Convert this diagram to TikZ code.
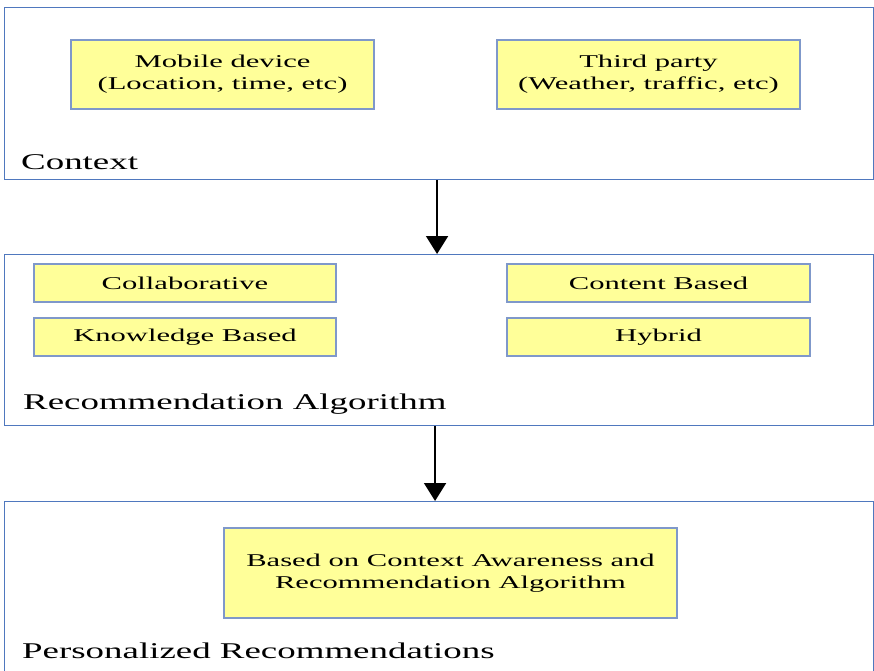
\documentclass[tikz,border=0pt]{standalone}
\usepackage{fontspec}
\usetikzlibrary{arrows.meta}
\newfontfamily\diagfont[FakeStretch=1.7]{Liberation Serif}
\newfontfamily\labelfont[FakeStretch=1.64]{Liberation Serif}
\definecolor{outerblue}{HTML}{4F78BE}
\definecolor{innerblue}{HTML}{7F98CA}
\definecolor{boxyellow}{HTML}{FFFF99}
\tikzset{
  outerbox/.style={draw=outerblue, line width=1.1pt, anchor=north west, inner sep=0pt},
  itembox/.style={draw=innerblue, fill=boxyellow, line width=1.6pt, inner sep=0pt, align=center,
    font=\diagfont\fontsize{18}{22}\selectfont},
  biglabel/.style={anchor=west, inner sep=0pt, font=\labelfont\fontsize{22.5}{26}\selectfont},
  flow/.style={line width=1.8pt, -{Triangle[width=22pt,length=18pt]}}
}
\begin{document}
\begin{tikzpicture}[x=1pt,y=-1pt]
\useasboundingbox (0,0) rectangle (874,670);
\clip (0,0) rectangle (874,670);
% outer panels
\node[outerbox, minimum width=869pt, minimum height=172pt] (ctx) at (4,7) {};
\node[outerbox, minimum width=869pt, minimum height=171pt] (alg) at (4,254) {};
\node[outerbox, minimum width=869pt, minimum height=200pt] (pers) at (4,501) {};
% context items
\node[itembox, minimum width=303pt, minimum height=69pt] (mob) at (222.5,74.5) {Mobile device\\(Location, time, etc)};
\node[itembox, minimum width=303pt, minimum height=69pt] (third) at (648.5,74.5) {Third party\\(Weather, traffic, etc)};
\node[biglabel] (ctxlab) at (21,162) {Context};
% algorithm items
\node[itembox, minimum width=302pt, minimum height=38pt] (col) at (185,283) {Collaborative};
\node[itembox, minimum width=302pt, minimum height=38pt] (kno) at (185,337) {Knowledge Based};
\node[itembox, minimum width=303pt, minimum height=38pt] (cont) at (658.5,283) {Content Based};
\node[itembox, minimum width=303pt, minimum height=38pt] (hyb) at (658.5,337) {Hybrid};
\node[biglabel] (alglab) at (23,404) {Recommendation Algorithm};
% personalized
\node[itembox, minimum width=453pt, minimum height=90pt] (based) at (450.5,573) {Based on Context Awareness and\\Recommendation Algorithm};
\node[biglabel] (perslab) at (22,651) {Personalized Recommendations};
% arrows
\draw[flow] ([xshift=-2pt]ctx.south) -- ([xshift=-2pt]alg.north);
\draw[flow] ([xshift=-4pt]alg.south) -- ([xshift=-4pt]alg.south |- pers.north);
\end{tikzpicture}
\end{document}
